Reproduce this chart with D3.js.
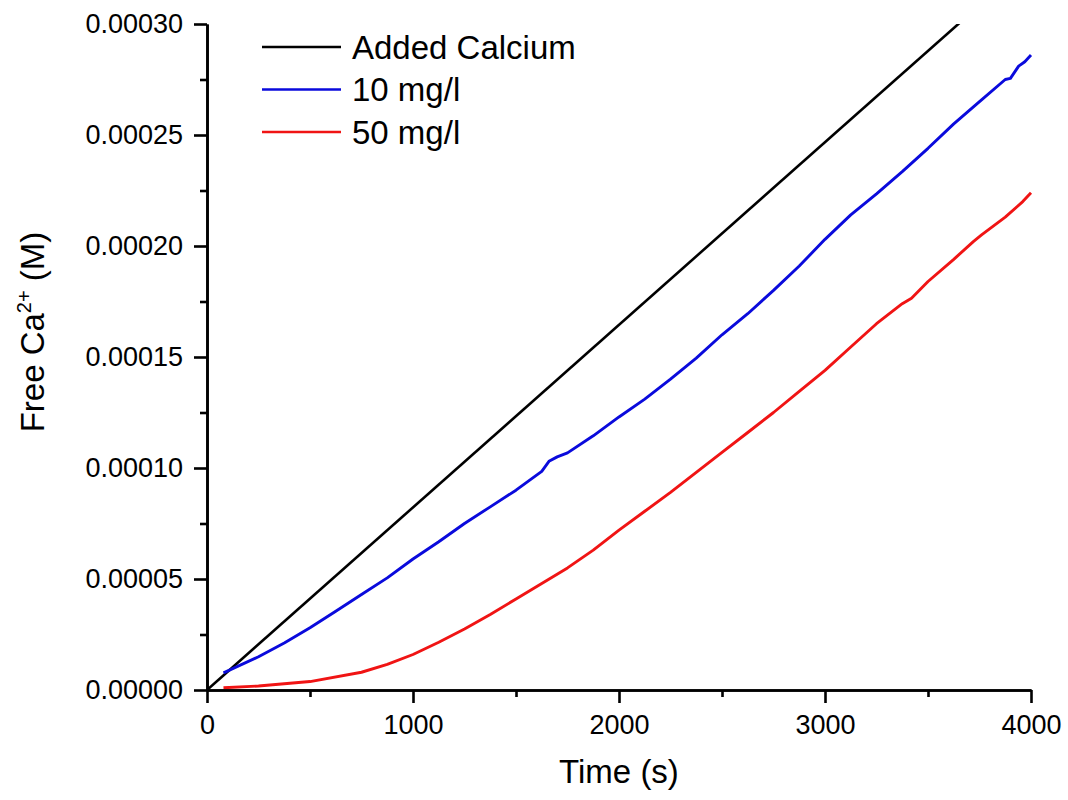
<!DOCTYPE html>
<html>
<head>
<meta charset="utf-8">
<script src="https://cdn.jsdelivr.net/npm/d3@7"></script>
<style>
  body { margin: 0; background: #fff; }
  svg text { font-family: "Liberation Sans", Arial, sans-serif; fill: #000; }
  .axis path, .axis line { stroke: #000; stroke-width: 2.6px; }
  .axis text { font-size: 27px; }
</style>
</head>
<body>
<div class="chart"></div>
<script>
// data (time in s, free Ca2+ in M)
const addedTime = [0, 4000];
const addedCa = [0, 0.000329];

const time10 = [80, 250, 375, 500, 625, 750, 875, 1000, 1125, 1250, 1375, 1500, 1625, 1660, 1700, 1750, 1875,
  2000, 2125, 2250, 2375, 2500, 2625, 2750, 2875, 3000, 3125, 3250, 3375, 3500, 3625, 3750, 3875, 3900,
  3940, 3970, 4000];
const ca10 = [0.0000077, 0.0000150, 0.0000212, 0.0000280, 0.0000355, 0.0000430, 0.0000505, 0.0000590,
  0.0000668, 0.0000750, 0.0000825, 0.0000900, 0.0000985, 0.0001030, 0.0001050, 0.0001068, 0.0001145,
  0.0001230, 0.0001310, 0.0001400, 0.0001495, 0.0001600, 0.0001695, 0.0001800, 0.0001910, 0.0002030,
  0.0002140, 0.0002235, 0.0002335, 0.0002440, 0.0002550, 0.0002650, 0.0002750, 0.0002755, 0.0002810,
  0.0002830, 0.0002860];

const time50 = [80, 250, 500, 750, 875, 1000, 1125, 1250, 1375, 1500, 1625, 1750, 1875, 2000, 2125, 2250,
  2375, 2500, 2625, 2750, 2875, 3000, 3125, 3250, 3375, 3420, 3500, 3625, 3720, 3760, 3875, 3960, 4000];
const ca50 = [0.0000010, 0.0000018, 0.0000038, 0.0000080, 0.0000115, 0.0000160, 0.0000215, 0.0000275,
  0.0000340, 0.0000410, 0.0000480, 0.0000550, 0.0000630, 0.0000720, 0.0000805, 0.0000890, 0.0000980,
  0.0001070, 0.0001160, 0.0001250, 0.0001345, 0.0001440, 0.0001545, 0.0001650, 0.0001740, 0.0001765,
  0.0001840, 0.0001940, 0.0002020, 0.0002050, 0.0002130, 0.0002200, 0.0002240];

const seriesNames = ['Added Calcium', '10 mg/l', '50 mg/l'];
const seriesColors = ['#000000', '#0a0adc', '#f01414'];

const xTicks = [0, 1000, 2000, 3000, 4000];
const xMinor = [500, 1500, 2500, 3500];
const yTicks = [0, 0.00005, 0.0001, 0.00015, 0.0002, 0.00025, 0.0003];
const yMinor = [0.000025, 0.000075, 0.000125, 0.000175, 0.000225, 0.000275];

{
  const margin = { top: 24, right: 37, bottom: 110, left: 207 };
  const width = 1068 - margin.left - margin.right;
  const height = 800 - margin.top - margin.bottom;

  const svg = d3.select('.chart')
    .append('svg')
    .attr('width', 1068)
    .attr('height', 800);

  const g = svg.append('g')
    .attr('transform', `translate(${margin.left}, ${margin.top})`);

  const xScale = d3.scaleLinear().domain([0, 4000]).range([0, width]);
  const yScale = d3.scaleLinear().domain([0, 0.0003]).range([height, 0]);

  g.append('clipPath')
    .attr('id', 'plot-clip')
    .append('rect')
    .attr('x', 0)
    .attr('y', 0)
    .attr('width', width + 5)
    .attr('height', height);

  const series = [
    addedTime.map((t, i) => [t, addedCa[i]]),
    time10.map((t, i) => [t, ca10[i]]),
    time50.map((t, i) => [t, ca50[i]]),
  ];

  const line = d3.line()
    .x(d => xScale(d[0]))
    .y(d => yScale(d[1]));

  g.append('g')
    .attr('clip-path', 'url(#plot-clip)')
    .selectAll('path')
    .data(series)
    .enter()
    .append('path')
    .attr('d', line)
    .attr('fill', 'none')
    .attr('stroke', (d, i) => seriesColors[i])
    .attr('stroke-width', (d, i) => (i === 0 ? 2.6 : 2.9))
    .attr('stroke-linejoin', 'round');

  // axes: minor ticks first, then major ticks with labels
  g.append('g')
    .attr('class', 'axis')
    .attr('transform', `translate(0, ${height})`)
    .call(d3.axisBottom(xScale).tickValues(xMinor).tickSize(7).tickSizeOuter(0).tickFormat(''));

  g.append('g')
    .attr('class', 'axis')
    .attr('transform', `translate(0, ${height})`)
    .call(d3.axisBottom(xScale).tickValues(xTicks).tickSize(13).tickSizeOuter(0).tickPadding(12)
      .tickFormat(d3.format('d')));

  g.append('g')
    .attr('class', 'axis')
    .call(d3.axisLeft(yScale).tickValues(yMinor).tickSize(7).tickSizeOuter(0).tickFormat(''));

  g.append('g')
    .attr('class', 'axis')
    .call(d3.axisLeft(yScale).tickValues(yTicks).tickSize(13).tickSizeOuter(0).tickPadding(11)
      .tickFormat(d3.format('.5f')));

  // axis titles
  svg.append('text')
    .attr('x', margin.left + width / 2)
    .attr('y', 783)
    .attr('text-anchor', 'middle')
    .style('font-size', '33px')
    .text('Time (s)');

  const yTitle = svg.append('text')
    .attr('transform', 'translate(44, 332) rotate(-90)')
    .attr('text-anchor', 'middle')
    .style('font-size', '33px');
  yTitle.append('tspan').text('Free Ca');
  yTitle.append('tspan').attr('dy', -13).style('font-size', '20px').text('2+');
  yTitle.append('tspan').attr('dy', 13).text(' (M)');

  // legend
  const legend = svg.append('g')
    .selectAll('g')
    .data(seriesNames)
    .enter()
    .append('g')
    .attr('transform', (d, i) => `translate(262, ${47 + i * 42.5})`);

  legend.append('line')
    .attr('x1', 0)
    .attr('x2', 79)
    .attr('stroke', (d, i) => seriesColors[i])
    .attr('stroke-width', 2.6);

  legend.append('text')
    .attr('x', 90)
    .attr('dy', '0.36em')
    .style('font-size', '33px')
    .text(d => d);
}
</script>
</body>
</html>
